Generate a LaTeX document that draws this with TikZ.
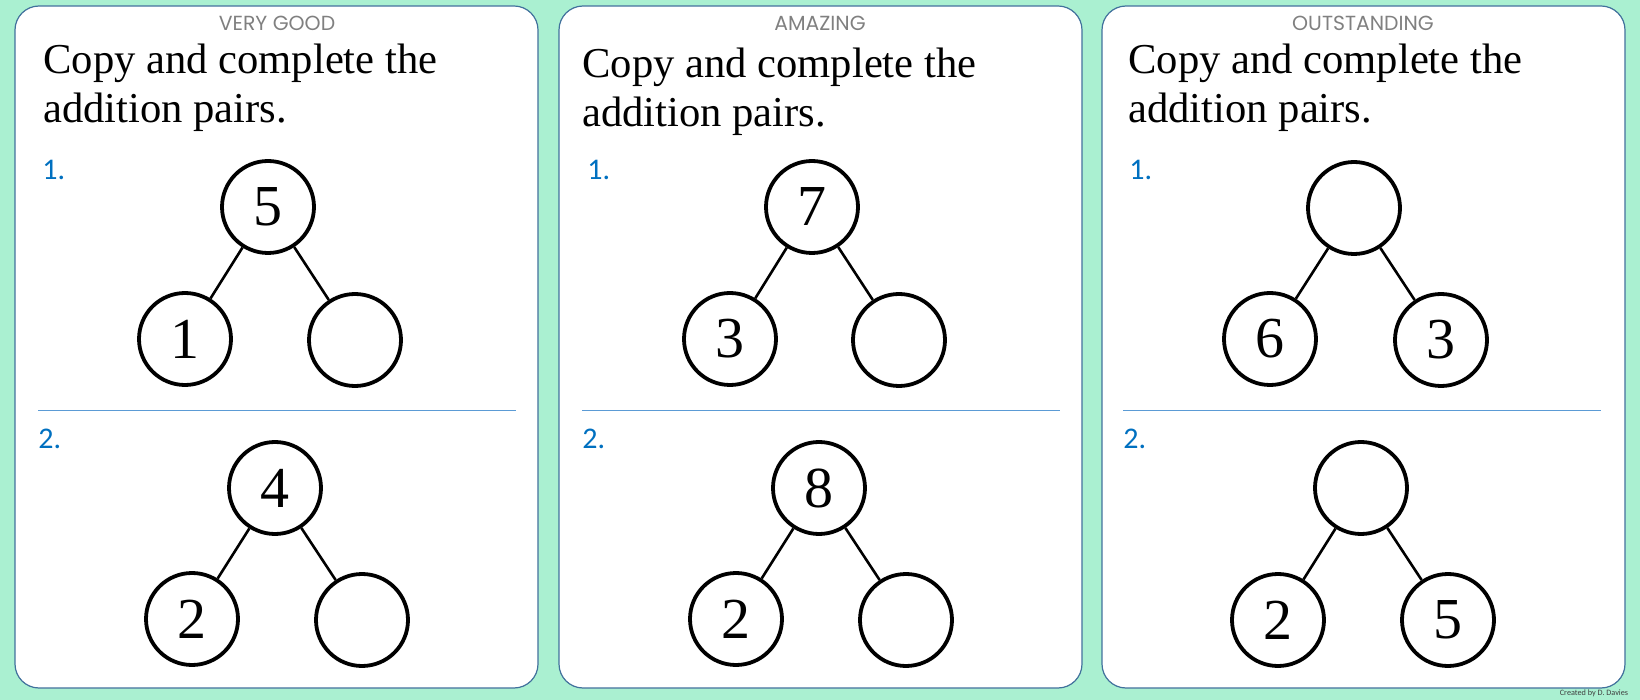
\documentclass[tikz,border=0pt]{standalone}
\usepackage{fontspec}
\setmainfont{Liberation Serif}
\newfontfamily\headfont{Poppins}
\newfontfamily\labelfont{Carlito}
\usepackage{tikz}
\definecolor{mint}{HTML}{AAF0D1}
\definecolor{frameblue}{HTML}{41719C}
\definecolor{ruleblue}{HTML}{5B9BD5}
\definecolor{qblue}{HTML}{0070C0}
\tikzstyle{panel}=[draw=frameblue,fill=white,line width=0.6pt,rounded corners=12pt]
\tikzstyle{numNode}=[draw,circle,minimum size=46pt,inner sep=0pt,line width=1.9pt,font=\fontsize{29pt}{29pt}\selectfont]
\tikzstyle{link}=[line width=1.3pt]
\tikzstyle{heading}=[anchor=base,inner sep=0pt,text=black!50,font=\headfont\fontsize{10.2pt}{11pt}\selectfont]
\tikzstyle{task}=[anchor=base west,align=left,inner sep=0pt,font=\fontsize{21.3pt}{24.7pt}\selectfont]
\tikzstyle{qlabel}=[anchor=base west,inner sep=0pt,text=qblue,font=\labelfont\fontsize{15pt}{15pt}\selectfont]
\tikzstyle{divider}=[draw=ruleblue,line width=0.5pt]

\begin{document}
\begin{tikzpicture}[x=0.5pt,y=-0.5pt]

    \useasboundingbox (0,0) rectangle (1640,700);
    \fill[mint] (0,0) rectangle (1640,700);
    \draw[panel] (15,6) rectangle (538,688);
    \draw[panel] (559,6) rectangle (1082,688);
    \draw[panel] (1102,6) rectangle (1625,688);

    \node[heading] (h1) at (277,31) {VERY GOOD};
    \node[heading] (h2) at (820,31) {AMAZING};
    \node[heading] (h3) at (1363,31) {OUTSTANDING};

    % base anchor sits on the second line
    \node[task] (c1) at (43,123) {Copy and complete the\\addition pairs.};
    \node[task] (c2) at (582,127) {Copy and complete the\\addition pairs.};
    \node[task] (c3) at (1128,123) {Copy and complete the\\addition pairs.};

    \node[qlabel] (q11) at (42,180) {1.};
    \node[qlabel] (q12) at (38,449) {2.};
    \node[qlabel] (q21) at (587,180) {1.};
    \node[qlabel] (q22) at (582,449) {2.};
    \node[qlabel] (q31) at (1129,180) {1.};
    \node[qlabel] (q32) at (1123,449) {2.};

    \draw[divider] (38,411) -- (516,411);
    \draw[divider] (582,411) -- (1060,411);
    \draw[divider] (1123,411) -- (1601,411);

    \node[numNode] (t11) at (268,207) {5};
    \node[numNode] (l11) at (185,339) {1};
    \node[numNode] (r11) at (355,340) {};
    \node[numNode] (t12) at (275,488) {4};
    \node[numNode] (l12) at (192,619) {2};
    \node[numNode] (r12) at (362,620) {};
    \node[numNode] (t21) at (812,207) {7};
    \node[numNode] (l21) at (730,339) {3};
    \node[numNode] (r21) at (899,340) {};
    \node[numNode] (t22) at (819,488) {8};
    \node[numNode] (l22) at (736,619) {2};
    \node[numNode] (r22) at (906,620) {};
    \node[numNode] (t31) at (1354,208) {};
    \node[numNode] (l31) at (1270,339) {6};
    \node[numNode] (r31) at (1441,340) {3};
    \node[numNode] (t32) at (1361,488) {};
    \node[numNode] (l32) at (1278,620) {2};
    \node[numNode] (r32) at (1448,620) {5};

    \draw[link] (t11) to (l11);
    \draw[link] (t11) to (r11);
    \draw[link] (t12) to (l12);
    \draw[link] (t12) to (r12);
    \draw[link] (t21) to (l21);
    \draw[link] (t21) to (r21);
    \draw[link] (t22) to (l22);
    \draw[link] (t22) to (r22);
    \draw[link] (t31) to (l31);
    \draw[link] (t31) to (r31);
    \draw[link] (t32) to (l32);
    \draw[link] (t32) to (r32);

    \node[anchor=base,inner sep=0pt,text=black!75,font=\labelfont\fontsize{4.1pt}{5pt}\selectfont] (credit) at (1594,695) {Created by D. Davies};

\end{tikzpicture}
\end{document}
